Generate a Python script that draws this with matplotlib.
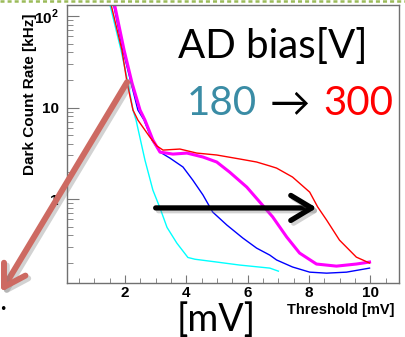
import matplotlib
matplotlib.use("Agg")
import matplotlib.pyplot as plt
import matplotlib.patheffects as pe
from matplotlib.lines import Line2D
from matplotlib.ticker import FixedLocator, FixedFormatter, LogLocator, MultipleLocator

plt.rcParams["mathtext.fontset"] = "custom"
plt.rcParams["mathtext.rm"] = "Liberation Sans:bold"
plt.rcParams["mathtext.bf"] = "Liberation Sans:bold"
plt.rcParams["lines.scale_dashes"] = False

# threshold [mV] vs dark count rate [kHz]
x_cyan = [1.45, 1.87, 2.10, 2.26, 2.36, 2.65, 2.91, 3.14, 3.37, 3.69, 4.05, 4.28, 4.99, 5.74, 6.72, 7.00]
y_cyan = [160, 42.5, 18.5, 9.4, 7.3, 2.67, 1.25, 0.80, 0.49, 0.33, 0.23, 0.22, 0.205, 0.19, 0.176, 0.163]

x_blue = [1.58, 1.93, 2.20, 2.42, 2.62, 2.88, 3.14, 3.46, 3.89, 4.21, 4.54, 4.86, 5.32, 5.84, 6.29,
          6.72, 6.94, 7.46, 8.02, 8.57, 9.22, 9.97]
y_blue = [160, 42.5, 18.5, 9.4, 7.3, 4.41, 3.26, 2.81, 2.24, 1.61, 1.11, 0.72, 0.52, 0.375, 0.291,
          0.244, 0.216, 0.181, 0.159, 0.155, 0.159, 0.176]

x_magenta = [1.61, 1.97, 2.23, 2.49, 2.65, 2.91, 3.14, 3.56, 4.02, 4.54, 4.99, 5.41, 5.97, 6.39,
             6.81, 7.27, 7.69, 8.24, 8.89, 9.54, 9.97]
y_magenta = [160, 42.5, 18.5, 9.4, 7.3, 4.41, 3.26, 3.10, 3.18, 2.88, 2.54, 1.97, 1.35, 0.93,
             0.64, 0.385, 0.257, 0.195, 0.185, 0.195, 0.205]

x_red = [1.49, 1.90, 2.07, 2.26, 2.42, 2.81, 3.04, 3.24, 3.79, 4.34, 4.99, 5.74, 6.29, 6.72, 6.94,
         7.46, 8.02, 8.28, 8.57, 8.99, 9.54, 9.97]
y_red = [160, 42.5, 18.5, 9.4, 7.3, 4.76, 3.80, 3.43, 3.52, 3.18, 3.03, 2.74, 2.54, 2.30, 2.18,
         1.74, 1.19, 0.82, 0.59, 0.356, 0.232, 0.20]

y_ticks = [1, 10, 100]
y_tick_labels = ["1", "10", r"$10^{2}$"]
x_ticks = [2, 4, 6, 8, 10]

W, H = 405, 337
fig = plt.figure(figsize=(W / 100, H / 100), dpi=100)
ax = fig.add_axes([67 / W, (H - 283) / H, (399 - 67) / W, (283 - 5) / H])

ax.plot(x_cyan, y_cyan, color="#00FFFF", lw=1.0)
ax.plot(x_blue, y_blue, color="#0000FF", lw=1.0)
ax.plot(x_magenta, y_magenta, color="#FF00FF", lw=2.2)
ax.plot(x_red, y_red, color="#FF0000", lw=1.0)

ax.set_yscale("log")
ax.set_xlim(0.11, 10.93)
ax.set_ylim(0.121, 132)

ax.yaxis.set_major_locator(FixedLocator(y_ticks))
ax.yaxis.set_major_formatter(FixedFormatter(y_tick_labels))
ax.yaxis.set_minor_locator(LogLocator(base=10, subs=range(2, 10)))
ax.xaxis.set_major_locator(FixedLocator(x_ticks))
ax.xaxis.set_minor_locator(MultipleLocator(0.5))

ax.tick_params(axis="both", which="both", direction="in", color="#777777",
               labelsize=11, labelcolor="black")
ax.tick_params(axis="y", which="major", length=8.5, pad=6)
ax.tick_params(axis="y", which="minor", length=4.5)
ax.tick_params(axis="x", which="major", length=6, pad=2)
ax.tick_params(axis="x", which="minor", length=3.5)
for lab in ax.get_xticklabels() + ax.get_yticklabels():
    lab.set_fontfamily("Liberation Sans")
    lab.set_fontweight("bold")
for sp in ax.spines.values():
    sp.set_color("#707070")
    sp.set_linewidth(1.0)

fig.text(30 / W, 1 - 94 / H, "Dark Count Rate [kHz]", rotation=90, ha="center", va="center",
         family="Liberation Sans", weight="bold", fontsize=11)
fig.text(341 / W, 1 - 310 / H, "Threshold [mV]", ha="center", va="center",
         family="Liberation Sans", weight="bold", fontsize=10.5)

# slide annotations
big = dict(family=["Lato", "DejaVu Sans"], fontsize=29)
fig.text(273 / W, 1 - 58 / H, "AD bias[V]", ha="center", va="baseline", color="black", **big)
fig.text(222 / W, 1 - 115 / H, "180", ha="center", va="baseline", color="#3A8CA5", **big)
fig.text(290 / W, 1 - 115 / H, "\u2192", ha="center", va="baseline", color="black", **big)
fig.text(358 / W, 1 - 115 / H, "300", ha="center", va="baseline", color="#FF0000", **big)
fig.text(216 / W, 1 - 331 / H, "[mV]", ha="center", va="baseline", color="black",
         family=["Lato", "DejaVu Sans"], fontsize=27)
fig.text(3 / W, 1 - 310 / H, "\u2022", ha="center", va="center", fontsize=9, color="black")

shadow = [pe.SimpleLineShadow(offset=(2, -2), shadow_color="gray", alpha=0.35), pe.Normal()]
ax.annotate("", xy=(8.25, 0.8), xytext=(3.0, 0.8),
            arrowprops=dict(arrowstyle="->,head_length=0.75,head_width=0.45", lw=3.8,
                            color="black", mutation_scale=20, shrinkA=0, shrinkB=0,
                            path_effects=shadow))
ax.annotate("", xy=(1, H - 292), xycoords="figure pixels", xytext=(2.07, 19), textcoords="data",
            arrowprops=dict(arrowstyle="->,head_length=0.75,head_width=0.45", lw=4.3,
                            color="#CD6A62", mutation_scale=20, shrinkA=0, shrinkB=0,
                            path_effects=shadow),
            annotation_clip=False)

fig.add_artist(Line2D([0, 1], [1 - 1.2 / H, 1 - 1.2 / H], transform=fig.transFigure,
                      color="#9BBB59", lw=1.8, dashes=(2.9, 2.2)))

fig.savefig("out.png", dpi=100)
